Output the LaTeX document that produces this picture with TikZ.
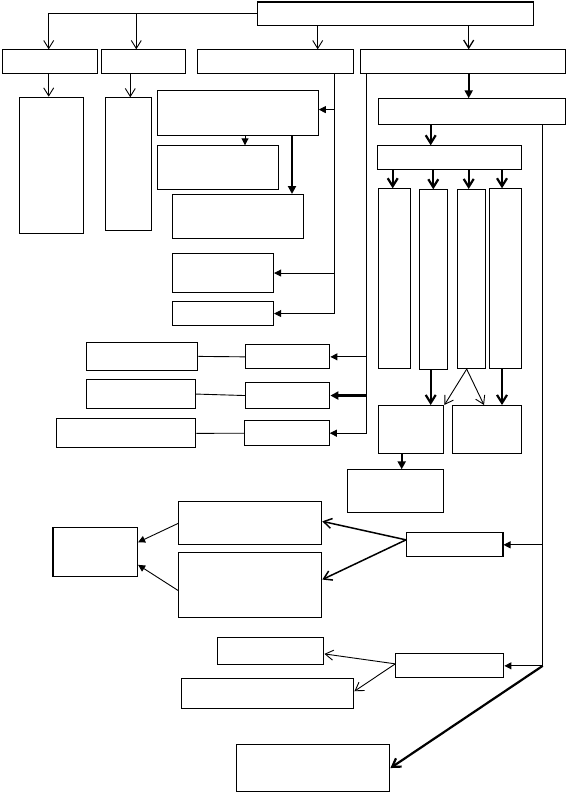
\documentclass[tikz,border=0pt]{standalone}
\usepackage{tikz}
\usetikzlibrary{arrows.meta}

\begin{document}
\begin{tikzpicture}[x=1pt,y=-1pt,
    box/.style={draw, line width=1.1pt, inner sep=0pt, anchor=north west},
    sz/.style 2 args={minimum width=#1pt, minimum height=#2pt},
    line/.style={line width=0.9pt},
    openarr/.style={line width=0.9pt, -{Straight Barb[length=8pt,width=10pt]}},
    openmid/.style={line width=1.5pt, -{Straight Barb[length=8pt,width=10pt]}},
    openthick/.style={line width=2.2pt, -{Straight Barb[length=8pt,width=10pt]}},
    fillarr/.style={line width=0.9pt, -{Triangle[length=7pt,width=7pt]}},
    fillthick/.style={line width=2.2pt, -{Triangle[length=8pt,width=8pt]}}]
    \useasboundingbox (0,0) rectangle (566,792);
    % top rows
    \node[box,sz={276}{23.5}] (T) at (257.3,1.5) {};
    \node[box,sz={95.8}{24}] (A1) at (1.5,49.3) {};
    \node[box,sz={84.3}{24}] (A2) at (101,49.3) {};
    \node[box,sz={156}{24}] (A3) at (197.3,49.3) {};
    \node[box,sz={204.2}{24}] (A4) at (360.3,49.3) {};
    \node[box,sz={63.7}{136.6}] (B1) at (19,96.7) {};
    \node[box,sz={45.7}{132.4}] (B2) at (105.3,97.3) {};
    % middle column
    \node[box,sz={161}{44.5}] (C1) at (156.7,90) {};
    \node[box,sz={121}{44}] (C2) at (156.7,145.3) {};
    \node[box,sz={130.4}{44}] (C3) at (172.3,194) {};
    \node[box,sz={101}{39}] (C4) at (172,253) {};
    \node[box,sz={101}{24}] (C5) at (172,301) {};
    % right column
    \node[box,sz={187}{26}] (D1) at (378,98.3) {};
    \node[box,sz={144}{24}] (D2) at (377.3,145.3) {};
    \node[box,sz={32}{180}] (E1) at (378,188.3) {};
    \node[box,sz={28}{180}] (E2) at (419.3,189.3) {};
    \node[box,sz={28.6}{179}] (E3) at (456.7,189) {};
    \node[box,sz={32}{179.7}] (E4) at (489.3,188.3) {};
    \node[box,sz={65.3}{48.3}] (F1) at (378,405) {};
    \node[box,sz={69.3}{48.3}] (F2) at (452,405) {};
    \node[box,sz={96.3}{43}] (G) at (347,469.3) {};
    % left pairs
    \node[box,sz={111}{28.3}] (H1) at (86.3,341.7) {};
    \node[box,sz={84}{24}] (I1) at (245.3,344.3) {};
    \node[box,sz={108.4}{28.4}] (H2) at (86.3,379.3) {};
    \node[box,sz={84}{25.4}] (I2) at (245.3,382.3) {};
    \node[box,sz={139.3}{29}] (H3) at (56,418.3) {};
    \node[box,sz={84.4}{25.3}] (I3) at (244.3,420) {};
    % bottom part
    \node[box,sz={143}{43}] (J1) at (178.2,501.3) {};
    \node[box,sz={143}{64.4}] (J2) at (178.2,552.3) {};
    \node[box,sz={84.6}{48.4}] (K) at (52.4,527.3) {};
    \node[box,sz={96.4}{24}] (L) at (406,532.3) {};
    \node[box,sz={106}{27.3}] (M1) at (217.3,636.7) {};
    \node[box,sz={172.3}{30}] (M2) at (181,678.3) {};
    \node[box,sz={108}{24}] (N) at (395.3,653.3) {};
    \node[box,sz={153.3}{47}] (O) at (236,744) {};

    % from the top box
    \draw[openarr] (T.west) -| (A1.north -| 48.7,0);
    \draw[openarr] (T.west -| 136.3,0) -- (A2.north -| 136.3,0);
    \draw[openarr] (T.south -| 317.7,0) -- (A3.north -| 317.7,0);
    \draw[openarr, line width=1.3pt] (T.south -| 468.7,0) -- (A4.north -| 468.7,0);
    \draw[openarr] (A1.south -| 48.7,0) -- (B1.north -| 48.7,0);
    \draw[openarr] (A2.south -| 130.3,0) -- (B2.north -| 130.3,0);
    % middle column
    \draw[fillarr] (A3.south -| 334.7,0) |- (C5.east);
    \draw[fillarr] ([yshift=3.2pt]C1.east -| 334.7,0) -- ([yshift=3.2pt]C1.east);
    \draw[fillarr] (C4.east -| 334.7,0) -- (C4.east);
    \draw[fillarr] (C1.south -| 245,0) -- (C2.north -| 245,0);
    \draw[fillthick] (C1.south -| 292,0) -- (C3.north -| 292,0);
    % right column
    \draw[fillthick] (A4.south -| 468.7,0) -- (D1.north -| 468.7,0);
    \draw[openthick] (D1.south -| 430.7,0) -- (D2.north -| 430.7,0);
    \foreach \n/\x in {E1/392.7,E2/433.3,E3/468.7,E4/502}
      \draw[openthick] (D2.south -| \x,0) -- (\n.north -| \x,0);
    \draw[openthick] (E2.south -| 430.7,0) -- (F1.north -| 430.7,0);
    \draw[openarr] (E3.south -| 466.7,0) -- (F1.north east);
    \draw[openarr] (E3.south -| 466.7,0) -- (F2.north -| 484,0);
    \draw[openthick] (E4.south -| 502,0) -- (F2.north -| 502,0);
    \draw[fillthick] (F1.south -| 401.7,0) -- (G.north -| 401.7,0);
    % left pairs
    \draw[fillarr] (A4.south -| 366.3,0) |- (I3.east);
    \draw[fillarr] (I1.east -| 366.3,0) -- (I1.east);
    \draw[fillthick] (I2.east -| 366.3,0) -- (I2.east);
    \draw[line] (H1.east) -- (I1.west);
    \draw[line] (H2.east) -- (I2.west);
    \draw[line] (H3.east) -- (I3.west);
    % bottom part
    \draw[fillarr] (D1.south -| 542.7,0) |- (N.east);
    \draw[fillarr] (L.east -| 542.7,0) -- (L.east);
    \draw[openthick] (N.east -| 542.7,0) -- (O.east);
    \draw[openmid] ([yshift=5pt]L.west) -- ([yshift=2pt]J1.east);
    \draw[openmid] ([yshift=5pt]L.west) -- ([yshift=5.5pt]J2.east);
    \draw[fillarr] (J1.west) -- ([yshift=9.8pt]K.east);
    \draw[fillarr] ([yshift=-5.5pt]J2.west) -- ([yshift=-12.8pt]K.east);
    \draw[openarr] ([yshift=2pt]N.west) -- ([yshift=-3pt]M1.east);
    \draw[openarr] ([yshift=2pt]N.west) -- ([yshift=2.6pt]M2.east);
\end{tikzpicture}
\end{document}
